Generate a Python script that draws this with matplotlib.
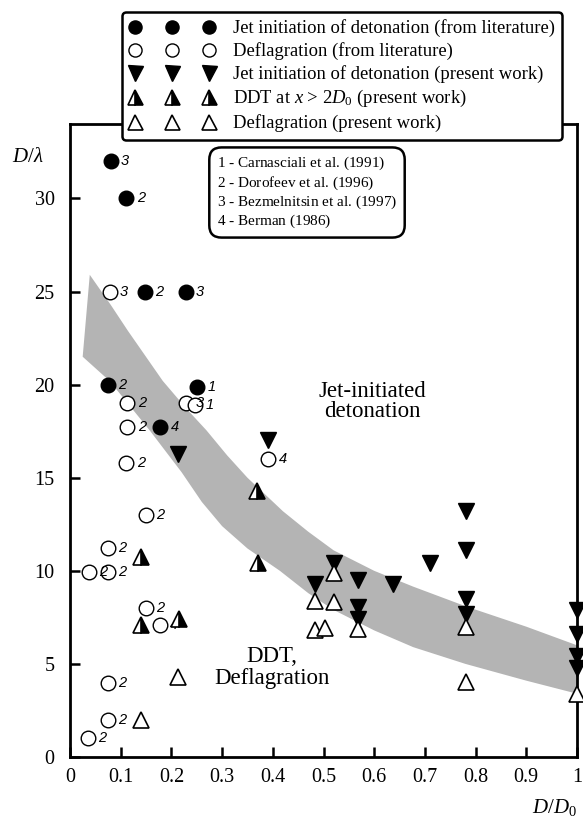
import matplotlib.pyplot as plt

plt.rcParams['font.family'] = ['Liberation Serif', 'DejaVu Serif']
plt.rcParams['mathtext.fontset'] = 'custom'
plt.rcParams['mathtext.rm'] = 'Liberation Serif'
plt.rcParams['mathtext.it'] = 'Liberation Serif:italic'

# jet initiation of detonation (from literature), with reference number
lit_det_x = [0.080, 0.111, 0.147, 0.228, 0.074, 0.250, 0.178]
lit_det_y = [32.0, 30.0, 25.0, 25.0, 20.0, 19.9, 17.7]
lit_det_ref = ['3', '2', '2', '3', '2', '1', '4']

# deflagration (from literature)
lit_def_x = [0.078, 0.113, 0.228, 0.246, 0.113, 0.111, 0.149, 0.074, 0.037,
             0.074, 0.149, 0.177, 0.074, 0.074, 0.035, 0.391]
lit_def_y = [25.0, 19.0, 19.0, 18.9, 17.7, 15.8, 13.0, 11.2, 9.95,
             9.95, 8.0, 7.1, 4.0, 2.0, 1.0, 16.0]
lit_def_ref = ['3', '2', '3', '1', '2', '2', '2', '2', '2',
               '2', '2', '4', '2', '2', '2', '4']

# present work
det_x = [0.213, 0.391, 0.520, 0.483, 0.569, 0.569, 0.569, 0.638, 0.711,
         0.782, 0.782, 0.782, 0.782, 1.0, 1.0, 1.0, 1.0]
det_y = [16.3, 17.05, 10.4, 9.3, 9.5, 8.07, 7.4, 9.3, 10.4,
         13.2, 11.1, 8.5, 7.7, 7.9, 6.6, 5.4, 4.8]
ddt_x = [0.368, 0.371, 0.141, 0.141, 0.215]
ddt_y = [14.3, 10.4, 10.75, 7.1, 7.4]
defl_x = [0.213, 0.141, 0.520, 0.483, 0.520, 0.569, 0.483, 0.503, 0.782, 0.782, 1.0]
defl_y = [4.3, 2.0, 9.9, 8.4, 8.3, 6.85, 6.8, 6.95, 7.0, 4.05, 3.4]

# boundary band
band_up_x = [0.039, 0.08, 0.114, 0.183, 0.23, 0.269, 0.31, 0.35, 0.42, 0.47, 0.52,
             0.6, 0.677, 0.783, 0.9, 1.0]
band_up_y = [25.9, 24.3, 22.9, 20.2, 18.7, 17.55, 16.2, 15.0, 13.2, 12.1, 11.1,
             10.0, 9.15, 8.07, 7.0, 6.0]
band_lo_x = [0.025, 0.078, 0.157, 0.22, 0.26, 0.3, 0.35, 0.414, 0.47, 0.52, 0.6,
             0.677, 0.78, 0.9, 1.0]
band_lo_y = [21.5, 20.2, 17.55, 15.3, 13.7, 12.4, 11.2, 10.0, 8.8, 7.9, 6.8,
             5.9, 5.0, 4.1, 3.4]

refs = [r'$\mathit{1}$ - Carnasciali et al. (1991)',
        r'$\mathit{2}$ - Dorofeev et al. (1996)',
        r'$\mathit{3}$ - Bezmelnitsin et al. (1997)',
        r'$\mathit{4}$ - Berman (1986)']

fig = plt.figure(figsize=(5.83, 8.18), dpi=100)
ax = fig.add_axes([70 / 583, 61 / 818, 507 / 583, 633 / 818])

ax.fill(band_up_x + band_lo_x[::-1], band_up_y + band_lo_y[::-1],
        color='#b4b4b4', lw=0, zorder=1)

ax.plot(lit_det_x, lit_det_y, 'o', ms=10.5, mfc='k', mec='k', ls='none', zorder=3,
        label='Jet initiation of detonation (from literature)')
ax.plot(lit_def_x, lit_def_y, 'o', ms=10.5, mfc='white', mec='k', mew=1.0, ls='none',
        zorder=3, label='Deflagration (from literature)')
ax.plot(det_x, det_y, 'v', ms=12, mfc='k', mec='k', ls='none', zorder=5, clip_on=False,
        label='Jet initiation of detonation (present work)')
ax.plot(ddt_x, ddt_y, '^', ms=12, fillstyle='right', mfc='k', markerfacecoloralt='white',
        mec='k', mew=1.2, ls='none', zorder=5,
        label=r'DDT at $\mathit{x}$ > 2$\mathit{D}_{\mathit{0}}$ (present work)')
ax.plot(defl_x, defl_y, '^', ms=12, mfc='white', mec='k', mew=1.2, ls='none', zorder=5,
        clip_on=False, label='Deflagration (present work)')

for xs, ys, rs in [(lit_det_x, lit_det_y, lit_det_ref), (lit_def_x, lit_def_y, lit_def_ref)]:
    for x, y, r in zip(xs, ys, rs):
        ax.annotate(r, (x, y), xytext=(7.5, 0), textcoords='offset points', ha='left',
                    va='center', fontsize=10.5, family='Liberation Sans', style='italic',
                    zorder=4)

ax.text(0.597, 19.1, 'Jet-initiated\ndetonation', ha='center', va='center',
        fontsize=16.5, linespacing=0.95, zorder=2)
ax.text(0.398, 4.8, 'DDT,\nDeflagration', ha='center', va='center',
        fontsize=16.5, linespacing=1.05, zorder=2)

ax.set_xlim(0, 1)
ax.set_ylim(0, 34)
ax.set_xticks([0, 0.1, 0.2, 0.3, 0.4, 0.5, 0.6, 0.7, 0.8, 0.9, 1])
ax.set_xticklabels(['0', '0.1', '0.2', '0.3', '0.4', '0.5', '0.6', '0.7', '0.8', '0.9', '1'])
ax.set_yticks([0, 5, 10, 15, 20, 25, 30])
ax.tick_params(direction='in', length=7, width=1.8, labelsize=14.5, pad=8)
ax.tick_params(axis='y', pad=11)
for s in ax.spines.values():
    s.set_linewidth(2)

fig.text(28 / 583, 1 - 157 / 818, r'$\mathit{D/}\lambda$', ha='center', va='center', fontsize=15)
fig.text(577 / 583, 1 - 807 / 818, r'$\mathit{D/D}_{\mathit{0}}$', ha='right', va='center',
         fontsize=15)

fig.text(307 / 583, 1 - 192.5 / 818, '\n'.join(refs), ha='center', va='center',
         multialignment='left', fontsize=11, linespacing=1.15,
         bbox=dict(boxstyle='round,pad=0.5,rounding_size=0.8', fc='white', ec='k', lw=1.8))

leg = ax.legend(loc='upper right', bbox_to_anchor=(562 / 583, 1 - 12 / 818),
                bbox_transform=fig.transFigure, numpoints=3, fontsize=13.4,
                handlelength=4.6, handletextpad=0.95, labelspacing=0.27,
                borderpad=0.4, borderaxespad=0, framealpha=1, fancybox=True,
                markerscale=0.9)
leg.get_frame().set_edgecolor('k')
leg.get_frame().set_linewidth(1.8)
leg.set_zorder(10)

fig.savefig('out.png', dpi=100)
